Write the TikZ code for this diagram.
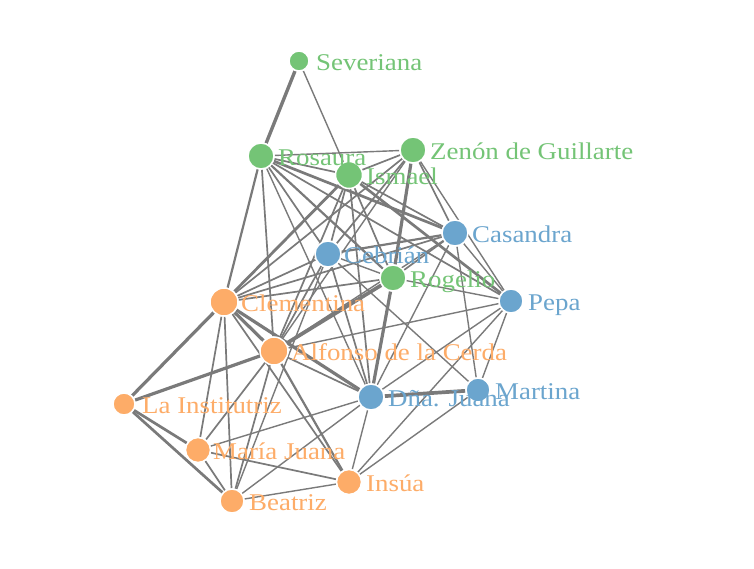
\documentclass[tikz,border=0pt]{standalone}
\usepackage{fontspec}
\setmainfont{Liberation Serif}
\pgfdeclarelayer{bglayer}
\pgfdeclarelayer{edgelayer}
\pgfsetlayers{bglayer,edgelayer,main}
\definecolor{cgreen}{RGB}{116,196,118}
\definecolor{cblue}{RGB}{107,165,206}
\definecolor{corange}{RGB}{253,172,104}
\definecolor{cedge}{RGB}{122,122,122}
\begin{document}
\begin{tikzpicture}[x=1pt,y=-1pt,
  vert/.style={circle,draw=white,line width=1.5pt,inner sep=0pt},
  gv/.style={vert,fill=cgreen},
  bv/.style={vert,fill=cblue},
  ov/.style={vert,fill=corange},
  lbl/.style={anchor=base west,inner sep=0pt,font=\fontsize{24}{28}\selectfont},
  e/.style={draw=cedge,line width=#1},
  e/.default=1.4pt]
\begin{pgfonlayer}{bglayer}
\fill[white] (0,0) rectangle (754,568);
\end{pgfonlayer}
\useasboundingbox (0,0) rectangle (754,568);
% vertices
\node[gv,minimum size=20pt] (S)  at (299,61) {};
\node[gv,minimum size=26pt] (Ro) at (261,156) {};
\node[gv,minimum size=26pt] (Z)  at (413,150) {};
\node[gv,minimum size=27pt] (I)  at (349,175) {};
\node[bv,minimum size=26pt] (Ca) at (455,233) {};
\node[bv,minimum size=26pt] (Ce) at (328,254) {};
\node[gv,minimum size=26pt] (Rg) at (393,278) {};
\node[bv,minimum size=24pt] (P)  at (511,301) {};
\node[ov,minimum size=28pt] (Cl) at (224,302) {};
\node[ov,minimum size=28pt] (A)  at (274,351) {};
\node[ov,minimum size=22pt] (LI) at (124,404) {};
\node[bv,minimum size=26pt] (DJ) at (371,397) {};
\node[bv,minimum size=24pt] (M)  at (478,390) {};
\node[ov,minimum size=25pt] (MJ) at (198,450) {};
\node[ov,minimum size=25pt] (In) at (349,482) {};
\node[ov,minimum size=24pt] (B)  at (232,501) {};
% labels
\node[lbl,text=cgreen] (Sl)  at (316,70.5)  {\scalebox{1.12}[1]{Severiana}};
\node[lbl,text=cgreen] (Rol) at (278,165.5) {\scalebox{1.12}[1]{Rosaura}};
\node[lbl,text=cgreen] (Zl)  at (430,159.5) {\scalebox{1.12}[1]{Zenón de Guillarte}};
\node[lbl,text=cgreen] (Il)  at (366,184.5) {\scalebox{1.12}[1]{Ismael}};
\node[lbl,text=cblue]  (Cal) at (472,242.5) {\scalebox{1.12}[1]{Casandra}};
\node[lbl,text=cblue]  (Cel) at (344,263.5) {\scalebox{1.12}[1]{Cebrián}};
\node[lbl,text=cgreen] (Rgl) at (410,287.5) {\scalebox{1.12}[1]{Rogelio}};
\node[lbl,text=cblue]  (Pl)  at (528,310.5) {\scalebox{1.12}[1]{Pepa}};
\node[lbl,text=corange] (Cll) at (241,311.5) {\scalebox{1.12}[1]{Clementina}};
\node[lbl,text=corange] (Al)  at (291,360.5) {\scalebox{1.12}[1]{Alfonso de la Cerda}};
\node[lbl,text=corange] (LIl) at (142,413.5) {\scalebox{1.12}[1]{La Institutriz}};
\node[lbl,text=cblue]  (DJl) at (388,406.5) {\scalebox{1.12}[1]{Dña. Juana}};
\node[lbl,text=cblue]  (Ml)  at (495,399.5) {\scalebox{1.12}[1]{Martina}};
\node[lbl,text=corange] (MJl) at (213,459.5) {\scalebox{1.12}[1]{María Juana}};
\node[lbl,text=corange] (Inl) at (366,491.5) {\scalebox{1.12}[1]{Insúa}};
\node[lbl,text=corange] (Bl)  at (249,510.5) {\scalebox{1.12}[1]{Beatriz}};
% edges
\begin{pgfonlayer}{edgelayer}
\draw[e=3.4pt] (S) -- (Ro);
\draw[e] (S) -- (I);
\draw[e] (Ro) -- (Z);
\draw[e=1.7pt] (Ro) -- (I);
\draw[e=2.2pt] (Ro) -- (Cl);
\draw[e=1.7pt] (Ro) -- (A);
\draw[e=1.7pt] (Ro) -- (Ce);
\draw[e=2.2pt] (Ro) -- (Rg);
\draw[e=2.7pt] (Ro) -- (Ca);
\draw[e=1.7pt] (Ro) -- (P);
\draw[e] (Ro) -- (DJ);
\draw[e=1.7pt] (I) -- (Z);
\draw[e=2.8pt] (I) -- (Cl);
\draw[e=1.7pt] (I) -- (A);
\draw[e=1.7pt] (I) -- (Ce);
\draw[e=1.7pt] (I) -- (Rg);
\draw[e=1.7pt] (I) -- (Ca);
\draw[e=1.7pt] (I) -- (DJ);
\draw[e=2.7pt] (I) -- (P);
\draw[e=1.7pt] (Z) -- (Cl);
\draw[e=1.7pt] (Z) -- (Ce);
\draw[e=3.2pt] (Z) -- (Rg);
\draw[e=1.7pt] (Z) -- (Ca);
\draw[e] (Z) -- (P);
\draw[e] (Z) -- (A);
\draw[e=2.2pt] (Ca) -- (Ce);
\draw[e=1.7pt] (Ca) -- (Rg);
\draw[e] (Ca) -- (P);
\draw[e] (Ca) -- (M);
\draw[e=1.7pt] (Ca) -- (Cl);
\draw[e] (Ca) -- (A);
\draw[e] (Ca) -- (DJ);
\draw[e=1.7pt] (Ce) -- (Cl);
\draw[e=1.7pt] (Ce) -- (A);
\draw[e] (Ce) -- (Rg);
\draw[e=1.7pt] (Ce) -- (DJ);
\draw[e] (Ce) -- (M);
\draw[e] (Ce) -- (B);
\draw[e=1.7pt] (Rg) -- (Cl);
\draw[e=3.7pt] (Rg) -- (A);
\draw[e=3.2pt] (Rg) -- (DJ);
\draw[e] (Rg) -- (P);
\draw[e=3.2pt] (Cl) -- (A);
\draw[e=3.2pt] (Cl) -- (LI);
\draw[e=1.7pt] (Cl) -- (MJ);
\draw[e=1.7pt] (Cl) -- (B);
\draw[e=1.7pt] (Cl) -- (In);
\draw[e=3.2pt] (Cl) -- (DJ);
\draw[e=3.2pt] (A) -- (LI);
\draw[e=1.7pt] (A) -- (MJ);
\draw[e=1.7pt] (A) -- (B);
\draw[e=2.2pt] (A) -- (In);
\draw[e=1.7pt] (A) -- (DJ);
\draw[e] (A) -- (P);
\draw[e=2.7pt] (LI) -- (MJ);
\draw[e=2.7pt] (LI) -- (B);
\draw[e=1.7pt] (MJ) -- (B);
\draw[e=1.7pt] (MJ) -- (In);
\draw[e] (MJ) -- (DJ);
\draw[e] (B) -- (In);
\draw[e] (B) -- (DJ);
\draw[e] (In) -- (DJ);
\draw[e] (In) -- (M);
\draw[e] (In) -- (P);
\draw[e=3.7pt] (DJ) -- (M);
\draw[e] (DJ) -- (P);
\draw[e] (M) -- (P);
\end{pgfonlayer}
\end{tikzpicture}
\end{document}
